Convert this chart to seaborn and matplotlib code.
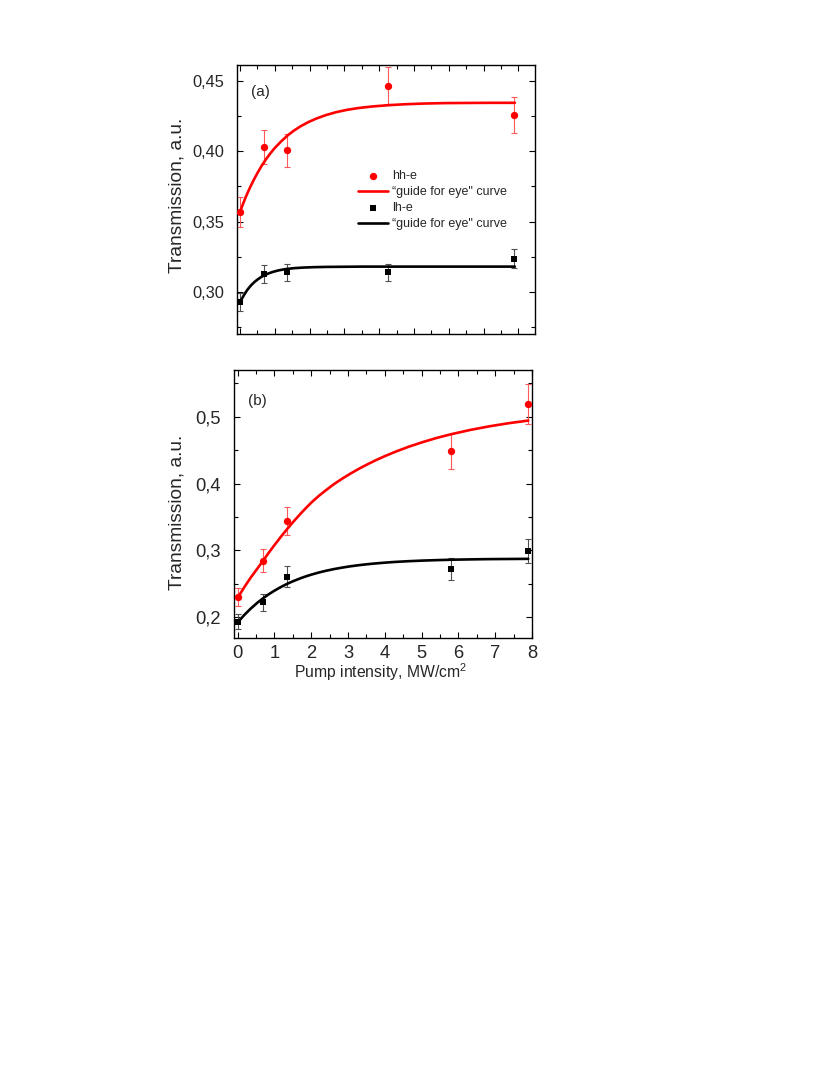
import matplotlib
matplotlib.use("Agg")
import matplotlib.pyplot as plt
from matplotlib.ticker import MultipleLocator, FixedLocator, FixedFormatter
import seaborn as sns

# ---------------- data ----------------
# panel (a)
x_a = [0.0, 0.70, 1.36, 4.26, 7.88]
hh_a = [0.3567, 0.4032, 0.4006, 0.4464, 0.4257]
hh_a_err = [0.0109, 0.0120, 0.0118, 0.0131, 0.0125]
lh_a = [0.2931, 0.3125, 0.3139, 0.3139, 0.3236]
lh_a_err = [0.0065, 0.0063, 0.0063, 0.0063, 0.0067]

fit_a_hh_x = [0.0, 0.075, 0.15, 0.225, 0.3, 0.4, 0.5, 0.62, 0.75, 0.87, 1.0, 1.18, 1.36,
              1.55, 1.75, 1.97, 2.2, 2.47, 2.75, 3.05, 3.4, 3.8, 4.25, 4.75, 5.3, 5.9,
              6.5, 7.2, 7.9]
fit_a_hh_y = [0.3570, 0.3619, 0.3666, 0.3709, 0.3749, 0.3799, 0.3845, 0.3896, 0.3944,
              0.3984, 0.4023, 0.4069, 0.4110, 0.4146, 0.4178, 0.4207, 0.4232, 0.4256,
              0.4276, 0.4292, 0.4306, 0.4317, 0.4326, 0.4333, 0.4338, 0.4341, 0.4342,
              0.4343, 0.4343]
fit_a_lh_x = [0.0, 0.05, 0.1, 0.15, 0.2, 0.26, 0.33, 0.41, 0.5, 0.6, 0.7, 0.82, 0.95,
              1.1, 1.3, 1.55, 1.8, 2.1, 2.5, 3.0, 3.5, 5.0, 7.9]
fit_a_lh_y = [0.2927, 0.2951, 0.2973, 0.2993, 0.3012, 0.3031, 0.3051, 0.3070, 0.3088,
              0.3105, 0.3119, 0.3132, 0.3143, 0.3153, 0.3162, 0.3169, 0.3173, 0.3176,
              0.3178, 0.3179, 0.3180, 0.3180, 0.3180]

# panel (b)
x_b = [0.0, 0.70, 1.35, 5.80, 7.90]
hh_b = [0.230, 0.2844, 0.344, 0.4484, 0.5185]
hh_b_err = [0.0138, 0.017, 0.021, 0.0265, 0.030]
lh_b = [0.1934, 0.2225, 0.2605, 0.2725, 0.299]
lh_b_err = [0.0112, 0.013, 0.0157, 0.0162, 0.018]

fit_b_x = [0.02, 0.18, 0.35, 0.53, 0.71, 0.85, 1.0, 1.18, 1.36, 1.53, 1.71, 1.86, 2.01,
           2.21, 2.42, 2.62, 2.83, 3.07, 3.32, 3.53, 3.74, 4.0, 4.28, 4.65, 5.03, 5.42,
           5.82, 6.33, 6.85, 7.37, 7.9]
fit_b_hh_y = [0.2310, 0.2450, 0.2590, 0.2725, 0.2860, 0.2970, 0.3080, 0.3208, 0.3330,
              0.3440, 0.3550, 0.3637, 0.3720, 0.3818, 0.3910, 0.3993, 0.4070, 0.4151,
              0.4229, 0.4289, 0.4346, 0.4411, 0.4475, 0.4552, 0.4621, 0.4685, 0.4741,
              0.4804, 0.4858, 0.4904, 0.4943]
fit_b_lh_y = [0.1935, 0.2034, 0.2127, 0.2215, 0.2292, 0.2346, 0.2398, 0.2454, 0.2504,
              0.2545, 0.2584, 0.2613, 0.2639, 0.2670, 0.2698, 0.2721, 0.2742, 0.2763,
              0.2781, 0.2794, 0.2805, 0.2817, 0.2828, 0.2839, 0.2848, 0.2855, 0.2861,
              0.2866, 0.2870, 0.2872, 0.2874]

# ticks / labels
yticks_a = [0.30, 0.35, 0.40, 0.45]
ylabels_a = ["0,30", "0,35", "0,40", "0,45"]
yticks_b = [0.2, 0.3, 0.4, 0.5]
ylabels_b = ["0,2", "0,3", "0,4", "0,5"]
xticks = [0, 1, 2, 3, 4, 5, 6, 7, 8]
xlabels = ["0", "1", "2", "3", "4", "5", "6", "7", "8"]

label_hh = "hh-e"
label_lh = "lh-e"
label_fit = "\u201cguide for eye\" curve"
ylabel = "Transmission, a.u."
xlabel = "Pump intensity, MW/cm$^{2}$"

# ---------------- style ----------------
sns.set_style("ticks")
plt.rcParams["font.family"] = ["Liberation Sans", "DejaVu Sans"]
plt.rcParams["mathtext.fontset"] = "custom"
plt.rcParams["mathtext.rm"] = "Liberation Sans"
plt.rcParams["mathtext.it"] = "Liberation Sans"
plt.rcParams["mathtext.default"] = "regular"
plt.rcParams["axes.linewidth"] = 1.0
plt.rcParams["axes.edgecolor"] = "black"

RED = "#ff0000"
RED_ERR = "#ff5a5a"
BLK = "black"
BLK_ERR = "#505050"

fig = plt.figure(figsize=(8.3, 10.75), dpi=100)
ax_a = fig.add_axes([0.2859, 0.68884, 0.3587, 0.25023])
ax_b = fig.add_axes([0.28193, 0.40679, 0.3594, 0.24902])


def draw(ax, x, hh, hh_err, lh, lh_err, fx_hh, fy_hh, fx_lh, fy_lh, with_labels):
    ax.errorbar(x, hh, yerr=hh_err, fmt="none", ecolor=RED_ERR, elinewidth=0.8,
                capsize=2.4, capthick=0.8, zorder=2)
    ax.errorbar(x, lh, yerr=lh_err, fmt="none", ecolor=BLK_ERR, elinewidth=0.8,
                capsize=2.4, capthick=0.8, zorder=2)
    sns.scatterplot(x=x, y=hh, ax=ax, marker="o", s=28, color=RED, linewidth=0,
                    zorder=4, label=label_hh if with_labels else None)
    sns.lineplot(x=fx_hh, y=fy_hh, ax=ax, color=RED, linewidth=1.9, sort=False,
                 estimator=None, zorder=3, label=label_fit if with_labels else None)
    sns.scatterplot(x=x, y=lh, ax=ax, marker="s", s=18, color=BLK, linewidth=0,
                    zorder=4, label=label_lh if with_labels else None)
    sns.lineplot(x=fx_lh, y=fy_lh, ax=ax, color=BLK, linewidth=1.9, sort=False,
                 estimator=None, zorder=3, label=label_fit if with_labels else None)


draw(ax_a, x_a, hh_a, hh_a_err, lh_a, lh_a_err,
     fit_a_hh_x, fit_a_hh_y, fit_a_lh_x, fit_a_lh_y, True)
draw(ax_b, x_b, hh_b, hh_b_err, lh_b, lh_b_err,
     fit_b_x, fit_b_hh_y, fit_b_x, fit_b_lh_y, False)

# ---------------- axes (a) ----------------
ax_a.set_xlim(-0.08, 8.48)
ax_a.set_ylim(0.2698, 0.4608)
ax_a.xaxis.set_major_locator(FixedLocator(xticks))
ax_a.xaxis.set_minor_locator(MultipleLocator(0.5))
ax_a.yaxis.set_major_locator(FixedLocator(yticks_a))
ax_a.yaxis.set_major_formatter(FixedFormatter(ylabels_a))
ax_a.yaxis.set_minor_locator(MultipleLocator(0.025))
ax_a.tick_params(labelbottom=False)
ax_a.tick_params(axis="y", labelsize=11.8)

# ---------------- axes (b) ----------------
ax_b.set_xlim(-0.1, 8.01)
ax_b.set_ylim(0.1694, 0.570)
ax_b.xaxis.set_major_locator(FixedLocator(xticks))
ax_b.xaxis.set_major_formatter(FixedFormatter(xlabels))
ax_b.xaxis.set_minor_locator(MultipleLocator(0.5))
ax_b.yaxis.set_major_locator(FixedLocator(yticks_b))
ax_b.yaxis.set_major_formatter(FixedFormatter(ylabels_b))
ax_b.yaxis.set_minor_locator(MultipleLocator(0.05))
ax_b.tick_params(axis="both", labelsize=13.2)

for ax in (ax_a, ax_b):
    for s in ax.spines.values():
        s.set_visible(True)
        s.set_linewidth(1.0)
        s.set_color("black")
    ax.tick_params(which="both", direction="in", top=True, right=True,
                   bottom=True, left=True, color="black", width=0.8)
    ax.tick_params(which="major", length=4.5)
    ax.tick_params(which="minor", length=2.8)
    ax.tick_params(axis="y", which="major", pad=9.3)
    ax.tick_params(axis="x", which="major", pad=5.0)
    ax.set_xlabel("")
    ax.set_ylabel("")

ax_a.set_ylabel(ylabel, fontsize=13.8, va="center")
ax_a.yaxis.set_label_coords(-0.2036, 0.517)
ax_b.set_ylabel(ylabel, fontsize=13.8, va="center")
ax_b.yaxis.set_label_coords(-0.1921, 0.4686)
ax_b.set_xlabel(xlabel, fontsize=11.3, va="center")
ax_b.xaxis.set_label_coords(0.49, -0.127)

ax_a.text(0.078, 0.9026, "(a)", transform=ax_a.transAxes, fontsize=11,
          ha="center", va="center")
ax_b.text(0.0778, 0.883, "(b)", transform=ax_b.transAxes, fontsize=11,
          ha="center", va="center")

# legend
handles, labels = ax_a.get_legend_handles_labels()
leg = ax_a.legend(handles, labels, loc="upper left", bbox_to_anchor=(0.4065, 0.611),
                  frameon=False, fontsize=9, handlelength=2.4, handletextpad=0.3,
                  labelspacing=0.32, borderpad=0, borderaxespad=0)
lb = ax_b.get_legend()
if lb is not None:
    lb.remove()

fig.savefig("out.png", dpi=100)
